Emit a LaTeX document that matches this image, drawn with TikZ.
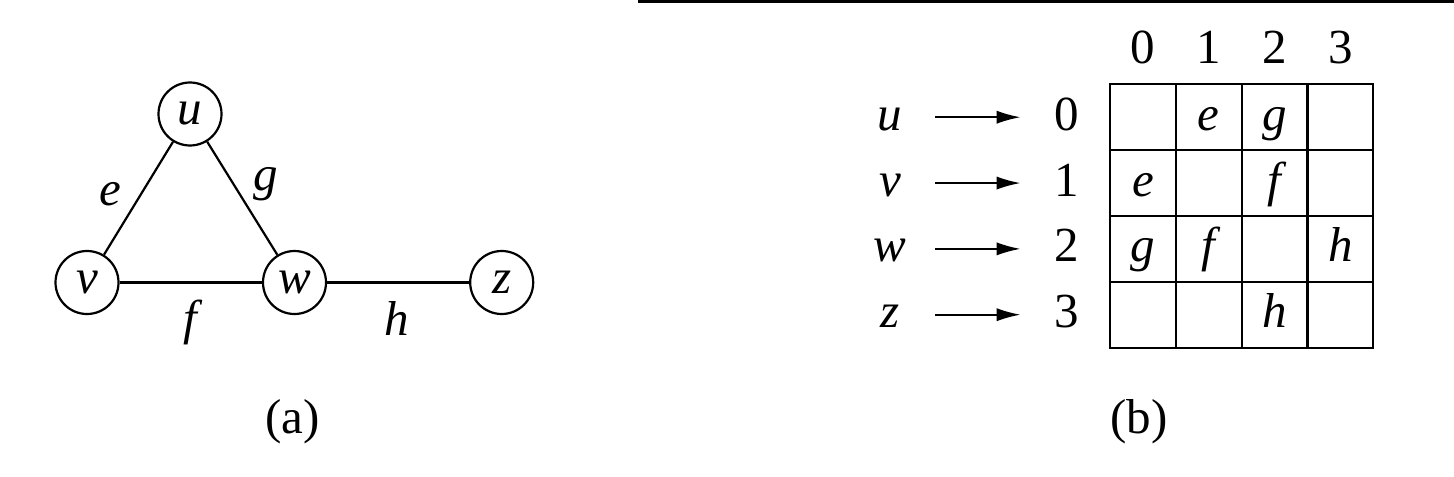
\documentclass[tikz,border=0pt]{standalone}
\usepackage{fontspec}
\setmainfont{Liberation Serif}
\usetikzlibrary{arrows.meta}
\begin{document}
\begin{tikzpicture}[x=0.5pt,y=-0.5pt,
  vert/.style={circle,draw,line width=1.1pt,minimum size=31.5pt,inner sep=0pt,font=\fontsize{24.5}{28}\selectfont\itshape},
  elab/.style={anchor=base,inner sep=0pt,font=\fontsize{24.5}{28}\selectfont\itshape},
  caption/.style={anchor=base,inner sep=0pt,font=\fontsize{24.5}{28}\selectfont},
  edge/.style={line width=1.1pt},
  rowlab/.style={inner sep=0pt,text height=16.8pt,text depth=3.8pt,minimum width=45pt,font=\fontsize{24.5}{28}\selectfont\itshape},
  rowidx/.style={inner sep=0pt,text height=16.8pt,text depth=3.8pt,minimum width=46pt,font=\fontsize{24.5}{28}\selectfont},
  cell/.style={inner sep=0pt,text height=16.8pt,text depth=3.8pt,font=\fontsize{24.5}{28}\selectfont\itshape},
  colidx/.style={anchor=base,inner sep=0pt,font=\fontsize{24.5}{28}\selectfont},
  arr/.style={line width=1pt,-{Latex[length=12pt,width=6.6pt]}},
  gridline/.style={line width=1.1pt}
]
\useasboundingbox (0,0) rectangle (1454,476);
% top rule
\fill (638,0) rectangle (1454,2.6);

% (a) graph
\node[vert] (u) at (190,114) {u};
\node[vert] (v) at (87,282.5) {v};
\node[vert] (w) at (294.5,282.5) {w};
\node[vert] (z) at (501.7,282.5) {z};
\draw[edge] (u) -- (v);
\draw[edge] (u) -- (w);
\draw[edge] (v) -- (w);
\draw[edge] (w) -- (z);
\node[elab] (le) at (110.8,205) {e};
\node[elab] (lg) at (266,190) {g};
\node[elab] (lf) at (190,334) {f};
\node[elab] (lh) at (397,335) {h};
\node[caption] (capa) at (292.8,433) {(a)};

% (b) adjacency matrix
\def\gx{1110}
\def\gy{84.3}
\def\cs{65.83}
\draw[gridline] (\gx,\gy) rectangle ({\gx+4*\cs},{\gy+4*\cs});
\foreach \i in {1,2,3} {
  \draw[gridline] ({\gx+\i*\cs},\gy) -- ({\gx+\i*\cs},{\gy+4*\cs});
  \draw[gridline] (\gx,{\gy+\i*\cs}) -- ({\gx+4*\cs},{\gy+\i*\cs});
}
\foreach \c in {0,1,2,3} {
  \node[colidx] (col\c) at ({\gx+(\c+0.5)*\cs},63.3) {\c};
}
\foreach \r/\name in {0/u,1/v,2/w,3/z} {
  \node[rowlab] (rl\r) at (890,{\gy+(\r+0.5)*\cs}) {\name};
  \node[rowidx] (ri\r) at (1067,{\gy+(\r+0.5)*\cs}) {\r};
  \draw[arr] (rl\r) -- (ri\r);
}
\foreach \r/\c/\t in {0/1/e,0/2/g,1/0/e,1/2/f,2/0/g,2/1/f,2/3/h,3/2/h} {
  \node[cell] (c\r\c) at ({\gx+(\c+0.5)*\cs},{\gy+(\r+0.5)*\cs}) {\t};
}
\node[caption] (capb) at (1139,433) {(b)};
\end{tikzpicture}
\end{document}
